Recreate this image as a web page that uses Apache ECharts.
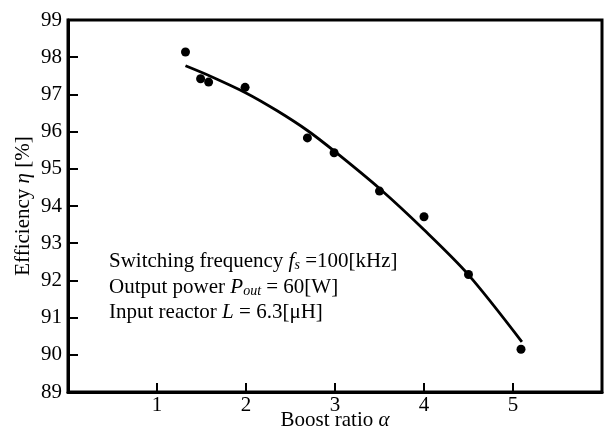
<!DOCTYPE html>
<html>
<head>
<meta charset="utf-8">
<script src="https://cdn.jsdelivr.net/npm/echarts@6/dist/echarts.min.js"></script>
<style>
  html, body { margin: 0; padding: 0; background: #fff; }
  #chart { width: 608px; height: 431px; }
</style>
</head>
<body>
<div id="chart"></div>
<script>
// measured points
const boostRatio = [1.32, 1.49, 1.58, 1.99, 2.69, 2.99, 3.5, 4.0, 4.5, 5.09]
const efficiency = [98.14, 97.42, 97.33, 97.19, 95.83, 95.43, 94.40, 93.71, 92.16, 90.15]
// fitted curve
const fitX = [1.32, 1.6, 2.0, 2.35, 2.69, 3.0, 3.5, 4.0, 4.5, 5.1]
const fitY = [97.77, 97.49, 97.04, 96.56, 96.03, 95.46, 94.47, 93.36, 92.15, 90.35]
const xTicks = [1, 2, 3, 4, 5]
const yRange = [89, 99]

const serif = '"Liberation Serif", "DejaVu Serif", serif'
const chart = echarts.init(document.getElementById('chart'))

const nameRich = {
  n: { fontFamily: serif, fontSize: 21, color: '#000' },
  i: { fontFamily: serif, fontSize: 21, fontStyle: 'italic', color: '#000' }
}

chart.setOption({
  animation: false,
  backgroundColor: '#fff',
  grid: {
    left: 68, right: 6, top: 20, bottom: 39,
    outerBoundsMode: 'none',
    show: true, borderColor: '#000', borderWidth: 3
  },
  xAxis: {
    type: 'value', min: 0, max: 6, interval: 1,
    name: '{n|Boost ratio }{i|α}',
    nameLocation: 'middle', nameGap: 18, nameMoveOverlap: false,
    nameTextStyle: { rich: nameRich },
    axisLine: { lineStyle: { color: '#000', width: 3 } },
    axisTick: { inside: true, length: 9, lineStyle: { color: '#000', width: 2 } },
    axisLabel: {
      margin: 3, fontFamily: serif, fontSize: 21, color: '#000',
      formatter: v => (xTicks.includes(v) ? String(v) : '')
    },
    splitLine: { show: false }
  },
  yAxis: {
    type: 'value', min: yRange[0], max: yRange[1], interval: 1,
    name: '{n|Efficiency }{i|η}{n| [%]}',
    nameLocation: 'middle', nameGap: 34, nameRotate: 90, nameMoveOverlap: false,
    nameTextStyle: { rich: nameRich },
    axisLine: { lineStyle: { color: '#000', width: 3 } },
    axisTick: { inside: true, length: 10, lineStyle: { color: '#000', width: 2 } },
    axisLabel: { margin: 6, fontFamily: serif, fontSize: 21, color: '#000' },
    splitLine: { show: false }
  },
  graphic: [{
    type: 'text', left: 109, top: 249,
    style: {
      text: [
        '{n|Switching frequency }{i|f}{s|s}{n| =100[kHz]}',
        '{n|Output power }{i|P}{s|out}{n| = 60[W]}',
        '{n|Input reactor }{i|L}{n| = 6.3[μH]}'
      ].join('\n'),
      lineHeight: 25.5,
      rich: {
        n: { fontFamily: serif, fontSize: 21, fill: '#000', lineHeight: 25.5 },
        i: { fontFamily: serif, fontSize: 21, fontStyle: 'italic', fill: '#000', lineHeight: 25.5 },
        s: { fontFamily: serif, fontSize: 14, fontStyle: 'italic', fill: '#000', lineHeight: 25.5, padding: [8, 0, 0, 0] }
      }
    }
  }],
  series: [
    {
      type: 'line', smooth: 0.3, showSymbol: false, silent: true,
      lineStyle: { color: '#000', width: 2.8 },
      data: fitX.map((x, i) => [x, fitY[i]])
    },
    {
      type: 'scatter', symbol: 'circle', symbolSize: 9,
      itemStyle: { color: '#000', opacity: 1 },
      data: boostRatio.map((x, i) => [x, efficiency[i]])
    }
  ]
})
</script>
</body>
</html>
